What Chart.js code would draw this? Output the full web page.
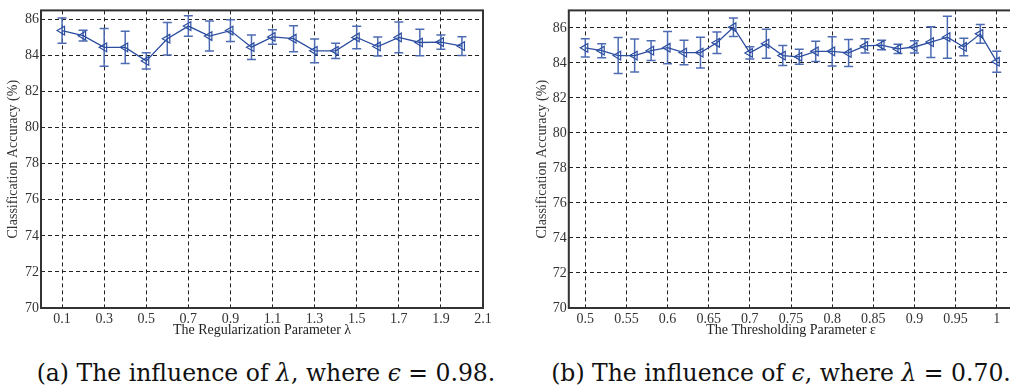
<!DOCTYPE html>
<html>
<head>
<meta charset="utf-8">
<script src="https://cdn.jsdelivr.net/npm/chart.js@4.4.0/dist/chart.umd.min.js"></script>
<style>
  html, body { margin: 0; padding: 0; background: #fff; overflow: hidden; width: 1010px; height: 389px; }
  .box { position: absolute; top: 0; }
  .cap { position: absolute; top: 360px; font-family: "DejaVu Serif", serif; font-size: 23.5px; line-height: 27px;
         white-space: nowrap; color: #111; transform: translateX(-50%); }
</style>
</head>
<body>
<div class="box" style="left:0"><canvas id="chartA" width="500" height="345"></canvas></div>
<div class="box" style="left:520px"><canvas id="chartB" width="510" height="345"></canvas></div>
<div class="cap" style="left:266px">(a) The influence of <i>λ</i>, where <i>ϵ</i> = 0.98.</div>
<div class="cap" style="left:781px">(b) The influence of <i>ϵ</i>, where <i>λ</i> = 0.70.</div>

<script>
// (a) lambda sweep
const lambdaValues = [0.1, 0.2, 0.3, 0.4, 0.5, 0.6, 0.7, 0.8, 0.9, 1.0, 1.1, 1.2, 1.3, 1.4, 1.5, 1.6, 1.7, 1.8, 1.9, 2.0];
const accLambda = [85.38, 85.1, 84.45, 84.45, 83.7, 84.93, 85.63, 85.08, 85.38, 84.46, 85.03, 84.93, 84.26, 84.26, 85.0, 84.5, 85.0, 84.72, 84.74, 84.52];
const errLambda = [0.7, 0.3, 1.05, 0.9, 0.45, 0.9, 0.57, 0.83, 0.6, 0.68, 0.4, 0.72, 0.66, 0.42, 0.62, 0.53, 0.85, 0.73, 0.4, 0.52];
const lambdaTicks = [0.1, 0.3, 0.5, 0.7, 0.9, 1.1, 1.3, 1.5, 1.7, 1.9, 2.1];

// (b) epsilon sweep
const epsValues = [0.5, 0.52, 0.54, 0.56, 0.58, 0.6, 0.62, 0.64, 0.66, 0.68, 0.7, 0.72, 0.74, 0.76, 0.78, 0.8, 0.82, 0.84, 0.86, 0.88, 0.9, 0.92, 0.94, 0.96, 0.98, 1.0];
const accEps = [84.86, 84.7, 84.42, 84.42, 84.7, 84.87, 84.59, 84.59, 85.15, 86.04, 84.57, 85.1, 84.42, 84.35, 84.66, 84.66, 84.57, 84.97, 85.02, 84.8, 84.91, 85.19, 85.47, 84.91, 85.66, 84.07];
const errEps = [0.52, 0.4, 1.03, 0.94, 0.56, 0.92, 0.7, 0.88, 0.61, 0.53, 0.35, 0.83, 0.57, 0.43, 0.58, 0.83, 0.77, 0.41, 0.27, 0.26, 0.35, 0.88, 1.2, 0.5, 0.53, 0.6];
const epsTicks = [0.5, 0.55, 0.6, 0.65, 0.7, 0.75, 0.8, 0.85, 0.9, 0.95, 1];

const accTicks = [70, 72, 74, 76, 78, 80, 82, 84, 86];

Chart.defaults.font.family = "'Liberation Serif', 'DejaVu Serif', serif";
Chart.defaults.font.size = 14;
Chart.defaults.color = '#333';

const blue = '#2c4ea0';

// draws the +/- error bars through the chart scales
const errorBars = {
  id: 'errorBars',
  beforeDatasetsDraw(chart, args, opts) {
    const ctx = chart.ctx;
    const x = chart.scales.x, y = chart.scales.y;
    const pts = chart.data.datasets[0].data;
    ctx.save();
    ctx.strokeStyle = opts.color;
    ctx.lineWidth = 1.5;
    pts.forEach(function (p, i) {
      const px = x.getPixelForValue(p.x);
      const top = y.getPixelForValue(p.y + opts.errors[i]);
      const bot = y.getPixelForValue(p.y - opts.errors[i]);
      ctx.beginPath();
      ctx.moveTo(px, top); ctx.lineTo(px, bot);
      ctx.moveTo(px - 4.5, top); ctx.lineTo(px + 4.5, top);
      ctx.moveTo(px - 4.5, bot); ctx.lineTo(px + 4.5, bot);
      ctx.stroke();
    });
    ctx.restore();
  }
};

// box round the plot area
const frame = {
  id: 'frame',
  afterDraw(chart) {
    const a = chart.chartArea, ctx = chart.ctx;
    ctx.save();
    ctx.strokeStyle = '#333';
    ctx.lineWidth = 2;
    ctx.strokeRect(a.left, a.top, a.right - a.left, a.bottom - a.top);
    ctx.restore();
  }
};

function makeChart(id, xs, ys, errs, xTicks, xMin, xMax, yMax, xTitle, fmt, geo) {
  return new Chart(document.getElementById(id), {
    type: 'line',
    data: {
      datasets: [{
        data: xs.map((v, i) => ({ x: v, y: ys[i] })),
        borderColor: blue,
        borderWidth: 1.3,
        backgroundColor: 'rgba(0,0,0,0)',
        pointStyle: 'triangle',
        rotation: -90,
        pointRadius: 5,
        pointBorderWidth: 1.2,
        pointBorderColor: blue,
        tension: 0
      }]
    },
    options: {
      responsive: false,
      animation: false,
      layout: { padding: { top: geo.top, right: geo.right, left: 0, bottom: 0 } },
      plugins: {
        legend: { display: false },
        tooltip: { enabled: false },
        errorBars: { errors: errs, color: '#4d6bb3' }
      },
      scales: {
        x: {
          type: 'linear',
          min: xMin,
          max: xMax,
          afterBuildTicks: s => { s.ticks = xTicks.map(v => ({ value: v })); },
          afterFit: s => { s.height = 37; },
          ticks: { autoSkip: false, maxRotation: 0, padding: 3, color: '#333', callback: fmt },
          grid: { color: '#222', lineWidth: 1, drawTicks: false },
          border: { display: false, dash: [4, 3] },
          title: { display: true, text: xTitle, color: '#222', padding: { top: 0, bottom: 6 } }
        },
        y: {
          min: 70,
          max: yMax,
          afterBuildTicks: s => { s.ticks = accTicks.map(v => ({ value: v })); },
          afterFit: s => { s.width = geo.yWidth; },
          ticks: { padding: 2, color: '#333' },
          grid: { color: '#222', lineWidth: 1, drawTicks: false },
          border: { display: false, dash: [4, 3] },
          title: { display: true, text: 'Classification Accuracy (%)', color: '#333', padding: { top: geo.yTitlePad, bottom: 0 } }
        }
      }
    },
    plugins: [errorBars, frame]
  });
}

makeChart('chartA', lambdaValues, accLambda, errLambda, lambdaTicks, 0, 2.1, 86.5,
  'The Regularization Parameter λ', v => v.toFixed(1),
  { top: 7, right: 17, yWidth: 41, yTitlePad: 5 });

makeChart('chartB', epsValues, accEps, errEps, epsTicks, 0.48, 1.02, 87,
  'The Thresholding Parameter ε', v => String(v),
  { top: 6, right: 16.8, yWidth: 48.8, yTitlePad: 13.6 });
</script>
</body>
</html>
